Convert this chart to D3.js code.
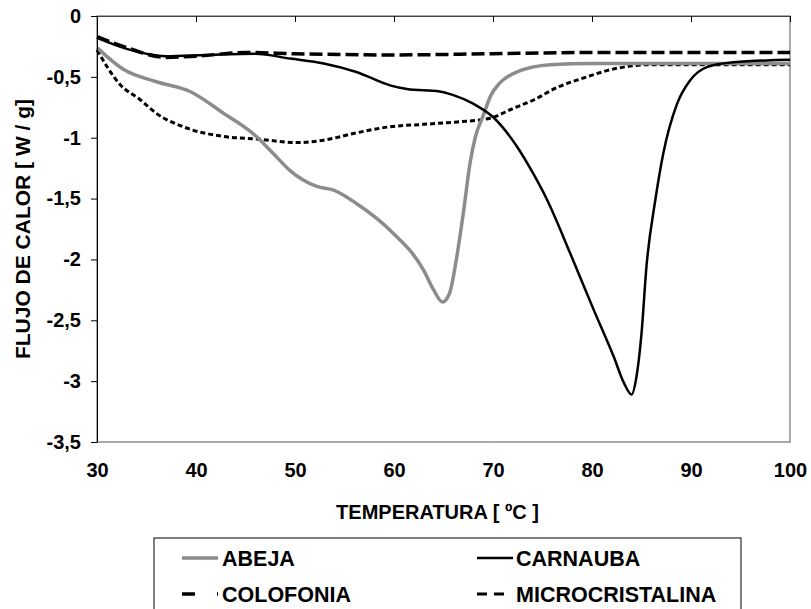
<!DOCTYPE html>
<html>
<head>
<meta charset="utf-8">
<script src="https://cdn.jsdelivr.net/npm/d3@7"></script>
<style>
  body { margin: 0; background: #fff; }
  svg text { font-family: "Liberation Sans", Arial, sans-serif; font-weight: bold; }
</style>
</head>
<body>
<div id="chart"></div>
<script>
// temperatures (ºC) and heat flow (W/g)
const abejaT = [30, 32.7, 36, 39.4, 42.8, 46.1, 47.8, 49.5, 52.2, 53.9, 56.2, 59.6, 63, 64, 64.9, 65.6, 66.3, 67, 67.7, 68.2, 69, 69.8, 70.7, 72.4, 75.8, 80, 90, 100];
const abejaV = [-0.26, -0.44, -0.54, -0.62, -0.8, -0.99, -1.13, -1.27, -1.4, -1.43, -1.54, -1.76, -2.09, -2.25, -2.35, -2.28, -2.0, -1.62, -1.2, -1.0, -0.82, -0.65, -0.55, -0.46, -0.4, -0.39, -0.39, -0.39];

const carnaubaT = [30, 33, 37, 41, 46, 49.5, 52.9, 56.2, 59.6, 61.3, 64.6, 66, 68, 70, 72.4, 74.1, 75.4, 77.8, 80.1, 82.2, 83.2, 84, 84.5, 85, 85.5, 86.4, 87.2, 88.6, 89.9, 91.6, 94.3, 100];
const carnaubaV = [-0.18, -0.27, -0.33, -0.32, -0.31, -0.35, -0.39, -0.46, -0.57, -0.6, -0.62, -0.65, -0.72, -0.83, -1.07, -1.3, -1.5, -1.95, -2.4, -2.8, -3.01, -3.11, -2.96, -2.61, -2.06, -1.51, -1.13, -0.72, -0.53, -0.42, -0.38, -0.36];

const colofoniaT = [30, 33, 37, 40, 45, 50, 60, 70, 80, 90, 100];
const colofoniaV = [-0.17, -0.26, -0.34, -0.33, -0.3, -0.31, -0.32, -0.31, -0.3, -0.3, -0.3];

const microT = [30, 32.3, 34.4, 36, 38.7, 42.8, 46.1, 50.2, 52.9, 56.2, 59.6, 63, 66.4, 69.7, 72, 74.1, 76.4, 79.1, 82.5, 85.9, 90, 100];
const microV = [-0.28, -0.56, -0.69, -0.8, -0.91, -0.99, -1.01, -1.04, -1.02, -0.96, -0.91, -0.89, -0.87, -0.84, -0.76, -0.69, -0.59, -0.51, -0.43, -0.4, -0.4, -0.4];

const xTicks = [30, 40, 50, 60, 70, 80, 90, 100];
const yTicks = [0, -0.5, -1, -1.5, -2, -2.5, -3, -3.5];

const width = 811, height = 609;
const marginLeft = 97, marginTop = 16, plotW = 693, plotH = 426;
const fontSize = 20;

const series = [
  {name: "ABEJA", T: abejaT, V: abejaV, color: "#8c8c8c", w: 3.5, dash: null},
  {name: "CARNAUBA", T: carnaubaT, V: carnaubaV, color: "#000", w: 2.5, dash: null},
  {name: "COLOFONIA", T: colofoniaT, V: colofoniaV, color: "#000", w: 3.5, dash: "13,5"},
  {name: "MICROCRISTALINA", T: microT, V: microV, color: "#000", w: 3, dash: "5,3"}
];

const x = d3.scaleLinear([30, 100], [marginLeft, marginLeft + plotW]);
const y = d3.scaleLinear([0, -3.5], [marginTop, marginTop + plotH]);

const svg = d3.select("#chart").append("svg")
    .attr("width", width)
    .attr("height", height);

// plot frame (right and bottom)
svg.append("rect")
    .attr("x", marginLeft).attr("y", marginTop)
    .attr("width", plotW).attr("height", plotH)
    .attr("fill", "none").attr("stroke", "#555").attr("stroke-width", 1);

const line = d3.line()
    .x(d => x(d[0]))
    .y(d => y(d[1]))
    .curve(d3.curveMonotoneX);

// draw dashed lines first, then solid ones
const order = [3, 2, 0, 1];
order.forEach(i => {
  const s = series[i];
  svg.append("path")
      .datum(d3.zip(s.T, s.V))
      .attr("fill", "none")
      .attr("stroke", s.color)
      .attr("stroke-width", s.w)
      .attr("stroke-dasharray", s.dash)
      .attr("d", line);
});

// x axis line at y = 0 with ticks pointing into the plot
svg.append("g")
    .attr("transform", `translate(0,${y(0)})`)
    .call(d3.axisBottom(x).tickValues(xTicks).tickSize(6).tickSizeOuter(0).tickFormat(""))
    .call(g => g.select(".domain").attr("stroke", "#444"));

// x tick labels at the bottom
svg.append("g")
    .attr("transform", `translate(0,${y(-3.5)})`)
    .call(d3.axisBottom(x).tickValues(xTicks).tickSize(0).tickPadding(21))
    .call(g => g.select(".domain").remove())
    .call(g => g.selectAll("text").attr("font-size", fontSize).attr("fill", "#000"));

// y axis
const fmt = v => v === 0 ? "0" : String(v).replace(".", ",");
svg.append("g")
    .attr("transform", `translate(${marginLeft},0)`)
    .call(d3.axisLeft(y).tickValues(yTicks).tickSize(6).tickSizeOuter(0).tickPadding(10).tickFormat(fmt))
    .call(g => g.selectAll("text").attr("font-size", fontSize).attr("fill", "#000"));

// axis titles
svg.append("text")
    .attr("x", marginLeft + plotW / 2 - 6)
    .attr("y", 519)
    .attr("text-anchor", "middle")
    .attr("font-size", fontSize)
    .text("TEMPERATURA [ ºC ]");

svg.append("text")
    .attr("transform", `translate(30,${marginTop + plotH / 2}) rotate(-90)`)
    .attr("text-anchor", "middle")
    .attr("font-size", 21)
    .text("FLUJO DE CALOR [ W / g]");

// legend
const legend = svg.append("g");
legend.append("rect")
    .attr("x", 154).attr("y", 538)
    .attr("width", 587).attr("height", 80)
    .attr("fill", "#fff").attr("stroke", "#000").attr("stroke-width", 1);

const legendPos = [
  {lx: 182, tx: 222, ty: 558, dash: null},
  {lx: 477, tx: 516, ty: 558, dash: null},
  {lx: 182, tx: 222, ty: 594, dash: "13,22,1,10"},
  {lx: 477, tx: 516, ty: 594, dash: "10,7"}
];
series.forEach((s, i) => {
  const p = legendPos[i];
  legend.append("line")
      .attr("x1", p.lx).attr("x2", p.lx + (i === 3 ? 28 : 36))
      .attr("y1", p.ty).attr("y2", p.ty)
      .attr("stroke", s.color)
      .attr("stroke-width", s.w)
      .attr("stroke-dasharray", p.dash);
  legend.append("text")
      .attr("x", p.tx).attr("y", p.ty)
      .attr("dy", "0.35em")
      .attr("font-size", 21.5)
      .text(s.name);
});
</script>
</body>
</html>
